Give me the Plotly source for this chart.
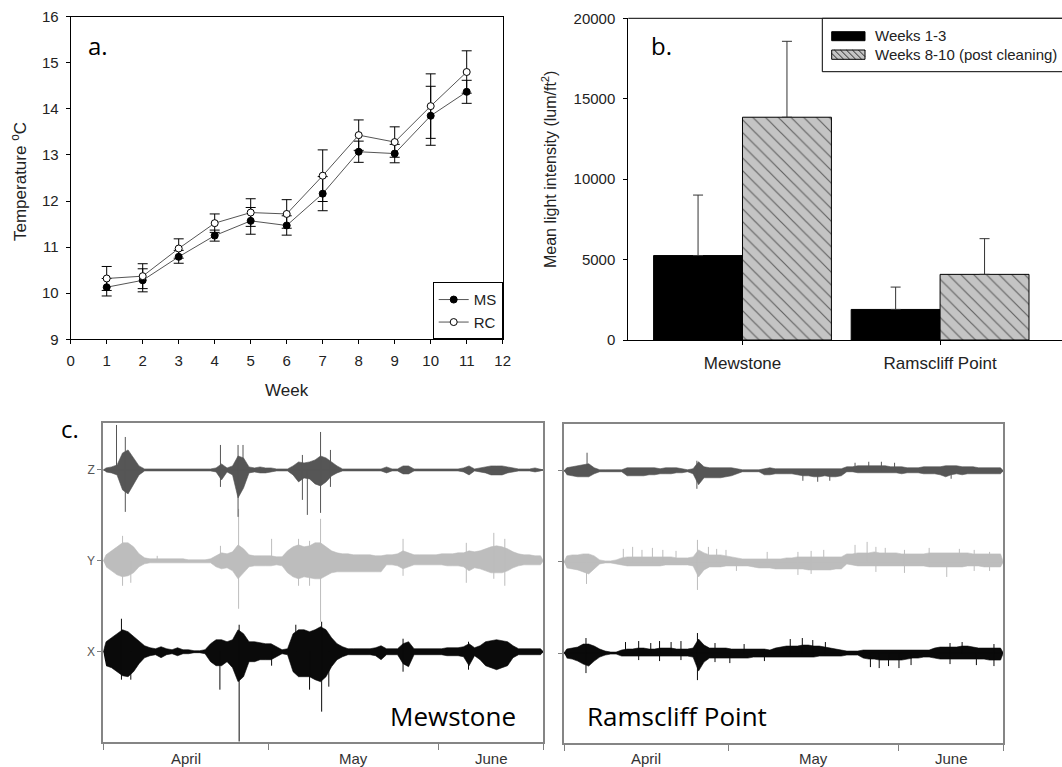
import plotly.graph_objects as go

# ---------------- data ----------------
# (a) weekly mean sea temperature, degC, with error
weeks = [1, 2, 3, 4, 5, 6, 7, 8, 9, 10, 11]
ms_temp = [10.13, 10.28, 10.79, 11.25, 11.57, 11.47, 12.16, 13.07, 13.03, 13.85, 14.37]
ms_err = [0.19, 0.25, 0.14, 0.12, 0.29, 0.21, 0.37, 0.23, 0.20, 0.64, 0.25]
rc_temp = [10.32, 10.37, 10.97, 11.52, 11.75, 11.72, 12.55, 13.43, 13.28, 14.06, 14.80]
rc_err = [0.26, 0.27, 0.21, 0.20, 0.30, 0.31, 0.56, 0.33, 0.33, 0.70, 0.46]

# (b) mean light intensity, lum/ft2
sites = ["Mewstone", "Ramscliff Point"]
light_early = [5250, 1900]
light_early_err = [3760, 1390]
light_late = [13850, 4080]
light_late_err = [4720, 2220]

# (c) accelerometer records, daily envelope amplitude (relative counts)
months = ["April", "May", "June"]
month_starts = [0, 30, 61]
record_end = 80

MS_Z_UP = [2, 3, 5, 17, 20, 12, 4, 1, 1, 1,
           1, 1, 1, 1, 1, 1, 1, 1, 1, 1,
           2, 6, 2, 4, 14, 12, 3, 2, 3, 2,
           2, 1, 1, 1, 4, 8, 7, 8, 10, 14,
           12, 8, 4, 1, 1, 1, 1, 1, 1, 1,
           1, 3, 1, 1, 4, 4, 1, 1, 1, 1,
           1, 1, 1, 1, 1, 2, 4, 1, 2, 3,
           4, 4, 4, 3, 2, 1, 1, 1, 2, 1]
MS_Z_DOWN = [2, 3, 5, 20, 24, 14, 5, 1, 1, 1,
             1, 1, 1, 1, 1, 1, 1, 1, 1, 1,
             2, 10, 2, 5, 28, 18, 3, 2, 3, 3,
             2, 1, 1, 1, 5, 12, 8, 9, 14, 16,
             12, 6, 3, 1, 1, 1, 1, 1, 1, 1,
             1, 3, 1, 1, 4, 4, 1, 1, 1, 1,
             1, 1, 1, 1, 1, 2, 5, 1, 2, 3,
             5, 5, 5, 3, 2, 1, 1, 1, 2, 1]
MS_Z_SPIKES = [(2.4, 45, 0), (4.0, 33, 42), (21.3, 25, 17), (24.5, 25, 47), (25.4, 25, 0),
               (36.2, 15, 30), (37.1, 0, 45), (39.5, 38, 43), (41.3, 20, 17)]

MS_Y_UP = [6, 10, 14, 18, 18, 14, 7, 3, 2, 2,
           2, 2, 2, 2, 2, 1, 1, 1, 1, 2,
           5, 8, 7, 9, 16, 12, 6, 5, 5, 5,
           5, 4, 4, 10, 14, 16, 14, 15, 18, 18,
           14, 10, 8, 7, 7, 6, 6, 6, 6, 5,
           5, 6, 6, 7, 10, 8, 6, 6, 6, 6,
           6, 7, 7, 7, 8, 8, 10, 9, 10, 12,
           14, 15, 14, 12, 9, 7, 6, 6, 5, 5]
MS_Y_DOWN = [6, 10, 14, 16, 15, 12, 6, 3, 2, 2,
             2, 2, 2, 2, 2, 2, 2, 2, 2, 2,
             6, 8, 7, 10, 18, 12, 6, 5, 5, 5,
             5, 4, 5, 12, 16, 18, 16, 17, 18, 18,
             15, 12, 11, 11, 11, 11, 11, 11, 11, 11,
             11, 4, 4, 5, 8, 6, 4, 4, 4, 4,
             4, 4, 5, 5, 5, 6, 10, 7, 8, 10,
             12, 12, 12, 10, 7, 5, 4, 4, 4, 4]
MS_Y_SPIKES = [(3.5, 25, 25), (5.0, 0, 22), (9.8, 5, 0), (21.3, 15, 0), (24.6, 52, 48),
               (30.6, 22, 0), (35.5, 22, 25), (37.5, 20, 25), (39.5, 42, 61), (54.5, 22, 15),
               (66.0, 18, 22), (71.0, 28, 18), (73.0, 22, 25)]

MS_X_UP = [10, 14, 18, 22, 20, 15, 10, 6, 4, 3,
           5, 3, 2, 4, 2, 2, 1, 1, 2, 8,
           12, 12, 10, 12, 22, 18, 10, 10, 9, 8,
           8, 5, 2, 3, 18, 22, 22, 20, 22, 25,
           22, 14, 8, 5, 3, 3, 3, 3, 3, 4,
           6, 3, 3, 3, 8, 10, 3, 3, 3, 3,
           3, 3, 4, 4, 4, 5, 8, 4, 6, 10,
           11, 12, 11, 10, 6, 3, 3, 3, 3, 3]
MS_X_DOWN = [14, 16, 20, 24, 25, 20, 12, 6, 4, 3,
             6, 3, 2, 4, 2, 2, 1, 1, 2, 10,
             14, 14, 10, 16, 30, 25, 10, 10, 8, 8,
             8, 5, 2, 3, 20, 25, 25, 25, 28, 30,
             25, 15, 8, 5, 3, 3, 3, 3, 3, 4,
             8, 3, 3, 3, 12, 15, 3, 3, 3, 3,
             3, 3, 4, 4, 4, 5, 14, 4, 8, 14,
             16, 18, 16, 14, 6, 3, 3, 3, 3, 3]
MS_X_SPIKES = [(3.3, 33, 28), (5.0, 0, 28), (21.2, 0, 38), (24.7, 27, 90), (30.6, 0, 14),
               (35.0, 27, 0), (37.5, 0, 38), (39.7, 30, 60), (41.0, 0, 35), (54.5, 13, 20),
               (66.4, 10, 18)]

RP_Z_UP = [3, 4, 5, 6, 7, 3, 1, 1, 1, 1,
           1, 3, 3, 3, 3, 3, 3, 2, 3, 3,
           3, 2, 1, 2, 9, 4, 3, 3, 3, 3,
           3, 2, 1, 1, 1, 1, 2, 3, 2, 2,
           2, 2, 2, 2, 2, 2, 2, 2, 2, 2,
           2, 4, 4, 5, 5, 5, 5, 5, 5, 4,
           4, 4, 3, 3, 3, 4, 4, 4, 4, 5,
           5, 5, 4, 4, 4, 3, 3, 3, 3, 3]
RP_Z_DOWN = [4, 5, 6, 6, 6, 3, 1, 1, 1, 1,
             1, 5, 5, 5, 5, 4, 4, 3, 3, 3,
             2, 2, 1, 3, 14, 7, 7, 7, 7, 6,
             5, 3, 1, 1, 1, 1, 4, 4, 3, 3,
             3, 3, 4, 5, 5, 6, 6, 5, 6, 6,
             5, 1, 1, 2, 2, 2, 2, 2, 2, 2,
             2, 3, 2, 2, 2, 3, 3, 3, 4, 6,
             4, 3, 4, 3, 3, 3, 3, 3, 3, 3]
RP_Z_SPIKES = [(4.2, 18, 0), (24.2, 10, 18), (43.5, 0, 10), (46.2, 0, 11), (48.4, 0, 10),
               (53.0, 8, 0), (55.5, 9, 0), (57.8, 9, 0), (60.2, 8, 0), (70.5, 0, 8)]

RP_Y_UP = [6, 7, 7, 8, 8, 6, 2, 1, 1, 2,
           4, 5, 5, 5, 5, 5, 5, 5, 5, 5,
           4, 4, 4, 5, 12, 9, 7, 7, 7, 6,
           5, 4, 3, 3, 3, 3, 3, 3, 3, 3,
           4, 4, 5, 5, 5, 5, 5, 5, 5, 5,
           5, 8, 8, 9, 9, 9, 10, 9, 9, 9,
           9, 8, 8, 8, 8, 8, 9, 9, 9, 9,
           9, 9, 9, 9, 8, 8, 8, 8, 8, 8]
RP_Y_DOWN = [6, 7, 8, 10, 12, 7, 2, 1, 1, 2,
             3, 4, 4, 4, 4, 4, 4, 4, 3, 3,
             3, 3, 3, 4, 15, 8, 5, 5, 5, 4,
             4, 4, 4, 4, 5, 6, 6, 6, 7, 7,
             7, 7, 7, 7, 8, 8, 8, 8, 8, 7,
             7, 2, 3, 4, 4, 4, 4, 4, 4, 4,
             4, 4, 4, 4, 4, 4, 5, 5, 5, 5,
             5, 5, 5, 4, 4, 4, 5, 5, 5, 5]
RP_Y_SPIKES = [(4.1, 0, 22), (24.3, 22, 28), (69.7, 0, 15), (10.8, 13, 0), (12.5, 15, 0),
               (14.2, 12, 0), (16.1, 14, 0), (18.0, 12, 0), (20.4, 11, 0), (26.3, 15, 0),
               (27.8, 13, 0), (29.5, 12, 0), (31.4, 0, 9), (37.0, 10, 0), (42.6, 10, 13),
               (45.0, 11, 12), (47.3, 12, 0), (53.0, 17, 0), (55.2, 20, 0), (56.8, 15, 10),
               (58.5, 14, 0), (62.0, 12, 11), (66.5, 14, 0), (72.0, 13, 0), (74.7, 12, 9),
               (77.5, 10, 9)]

RP_X_UP = [4, 5, 6, 9, 9, 7, 4, 2, 1, 1,
           3, 4, 4, 5, 5, 4, 4, 5, 5, 5,
           4, 4, 4, 5, 14, 8, 5, 5, 5, 5,
           4, 4, 4, 4, 4, 4, 4, 3, 5, 6,
           7, 7, 7, 8, 8, 7, 7, 6, 5, 4,
           3, 2, 2, 2, 3, 3, 3, 3, 3, 3,
           3, 3, 3, 3, 3, 3, 3, 5, 6, 6,
           6, 6, 7, 7, 6, 5, 5, 5, 5, 5]
RP_X_DOWN = [5, 6, 8, 11, 13, 8, 4, 2, 1, 1,
             3, 3, 3, 3, 3, 3, 3, 3, 3, 3,
             3, 3, 3, 4, 18, 9, 5, 5, 5, 5,
             5, 5, 5, 5, 4, 4, 4, 4, 4, 4,
             4, 4, 4, 4, 4, 4, 3, 3, 3, 3,
             3, 2, 2, 2, 5, 6, 6, 7, 7, 7,
             7, 7, 6, 5, 5, 4, 4, 5, 6, 6,
             6, 6, 6, 6, 6, 6, 6, 7, 7, 7]
RP_X_SPIKES = [(4.0, 15, 20), (24.3, 20, 27), (11.2, 11, 0), (13.6, 12, 7), (15.8, 10, 0),
               (17.4, 12, 8), (19.5, 11, 0), (21.3, 12, 7), (27.5, 10, 9), (30.2, 0, 10),
               (32.8, 9, 0), (36.5, 0, 8), (41.2, 14, 0), (43.4, 15, 0), (45.3, 13, 0),
               (47.6, 11, 0), (55.8, 0, 14), (57.4, 0, 15), (59.1, 0, 13), (61.0, 0, 15),
               (63.2, 0, 12), (70.3, 10, 11), (72.5, 11, 0), (75.1, 0, 12), (78.3, 9, 13)]

# ---------------- layout helpers ----------------
W, H = 1062, 767
SANS = "Liberation Sans, Arial, sans-serif"
CAL = "Open Sans, sans-serif"


def px(x):
    return x / W


def py(y):
    return 1 - y / H


fig = go.Figure()

# ---------------- panel a ----------------
fig.add_trace(go.Scatter(
    x=weeks, y=ms_temp, name="MS", mode="lines+markers",
    line=dict(color="#555555", width=1),
    marker=dict(symbol="circle", size=7, color="black", line=dict(color="black", width=1)),
    error_y=dict(type="data", array=ms_err, color="black", thickness=1, width=5),
    xaxis="x", yaxis="y"))
fig.add_trace(go.Scatter(
    x=weeks, y=rc_temp, name="RC", mode="lines+markers",
    line=dict(color="#555555", width=1),
    marker=dict(symbol="circle", size=7, color="white", line=dict(color="black", width=1)),
    error_y=dict(type="data", array=rc_err, color="black", thickness=1, width=5),
    xaxis="x", yaxis="y"))

# ---------------- panel b ----------------
fig.add_trace(go.Bar(
    x=sites, y=light_early, name="Weeks 1-3", showlegend=False,
    marker=dict(color="black", line=dict(color="black", width=1)),
    error_y=dict(type="data", array=light_early_err, arrayminus=[0] * len(sites),
                 symmetric=False, color="#333333", thickness=1, width=5),
    xaxis="x2", yaxis="y2"))
fig.add_trace(go.Bar(
    x=sites, y=light_late, name="Weeks 8-10 (post cleaning)", showlegend=False,
    marker=dict(color="#c4c4c4", line=dict(color="black", width=1),
                pattern=dict(shape="\\", fgcolor="black", bgcolor="#c4c4c4",
                             size=9, solidity=0.13)),
    error_y=dict(type="data", array=light_late_err, arrayminus=[0] * len(sites),
                 symmetric=False, color="#333333", thickness=1, width=5),
    xaxis="x2", yaxis="y2"))

# ---------------- panel c ----------------
AMP_SCALE = 91.0
OFFSETS = {"X": 1, "Y": 2, "Z": 3}
COLORS = {"Z": "#565656", "Y": "#bdbdbd", "X": "#0a0a0a"}


def add_wave(xa, ya, channel, up, down, spikes):
    base = OFFSETS[channel]
    color = COLORS[channel]
    days = [i + 0.5 for i in range(len(up))]
    upper = [base + u / AMP_SCALE for u in up]
    lower = [base - d / AMP_SCALE for d in down]
    fig.add_trace(go.Scatter(
        x=[0] + days + [record_end] + days[::-1], y=[base] + upper + [base] + lower[::-1],
        mode="lines", fill="toself", fillcolor=color,
        line=dict(color=color, width=0.6), showlegend=False, hoverinfo="skip",
        xaxis=xa, yaxis=ya))
    fig.add_trace(go.Scatter(
        x=[0, record_end], y=[base, base], mode="lines",
        line=dict(color=color, width=1.6), showlegend=False, hoverinfo="skip",
        xaxis=xa, yaxis=ya))
    sx, sy = [], []
    for d, u, dn in spikes:
        sx += [d, d, None]
        sy += [base + u / AMP_SCALE, base - dn / AMP_SCALE, None]
    fig.add_trace(go.Scatter(
        x=sx, y=sy, mode="lines", line=dict(color=color, width=1),
        showlegend=False, hoverinfo="skip", xaxis=xa, yaxis=ya))


add_wave("x3", "y3", "Y", MS_Y_UP, MS_Y_DOWN, MS_Y_SPIKES)
add_wave("x3", "y3", "Z", MS_Z_UP, MS_Z_DOWN, MS_Z_SPIKES)
add_wave("x3", "y3", "X", MS_X_UP, MS_X_DOWN, MS_X_SPIKES)
add_wave("x4", "y4", "Y", RP_Y_UP, RP_Y_DOWN, RP_Y_SPIKES)
add_wave("x4", "y4", "Z", RP_Z_UP, RP_Z_DOWN, RP_Z_SPIKES)
add_wave("x4", "y4", "X", RP_X_UP, RP_X_DOWN, RP_X_SPIKES)

# ---------------- axes ----------------
tick_font = dict(family=SANS, size=15, color="#222222")
ax_common = dict(showgrid=False, zeroline=False, ticks="outside", ticklen=4,
                 tickcolor="black", showline=True, linecolor="black", linewidth=1,
                 automargin=False)

month_bounds = month_starts + [record_end]
wave_x = dict(range=[0, record_end], tickvals=month_bounds, showticklabels=False,
              ticks="outside", ticklen=6, tickcolor="#808080", showgrid=False,
              zeroline=False, showline=True, mirror=True, linecolor="#858585", linewidth=2,
              automargin=False)
wave_y = dict(range=[0.01, 3.513], tickvals=[OFFSETS["X"], OFFSETS["Y"], OFFSETS["Z"]],
              ticktext=["X", "Y", "Z"], ticks="outside", ticklen=4, tickcolor="#808080",
              showgrid=False, zeroline=False, showline=True, mirror=True,
              linecolor="#858585", linewidth=2, automargin=False,
              tickfont=dict(family=SANS, size=12, color="#555555"))

fig.update_layout(
    width=W, height=H, margin=dict(l=0, r=0, t=0, b=0, pad=0, autoexpand=False),
    paper_bgcolor="white", plot_bgcolor="white",
    barmode="group", bargap=0.1, bargroupgap=0,
    showlegend=True,
    legend=dict(x=px(502.7), xanchor="right", y=py(339.3), yanchor="bottom",
                bordercolor="black", borderwidth=1, bgcolor="white",
                font=dict(family=SANS, size=15, color="#222222"),
                itemwidth=30, tracegroupgap=0),
    xaxis=dict(domain=[px(70.7), px(502.7)], range=[0, 12], dtick=1, mirror=True,
               tickfont=tick_font, ticklabelstandoff=4, anchor="y", **ax_common),
    yaxis=dict(domain=[py(339.3), py(16.7)], range=[9, 16], dtick=1, mirror=True,
               tickfont=tick_font, ticklabelstandoff=4, anchor="x", **ax_common),
    xaxis2=dict(domain=[px(628.3), 1.0], range=[-0.578, 1.617], type="category",
                tickfont=dict(family=SANS, size=17, color="#222222"), ticklabelstandoff=4,
                anchor="y2", **ax_common),
    yaxis2=dict(domain=[py(340), py(18.3)], range=[0, 20000], dtick=5000, tickformat="d",
                tickfont=tick_font, ticklabelstandoff=5, anchor="x2", **ax_common),
    xaxis3=dict(domain=[px(103.3), px(543.3)], anchor="y3", **wave_x),
    yaxis3=dict(domain=[py(741.7), py(423.3)], anchor="x3", showticklabels=True, **wave_y),
    xaxis4=dict(domain=[px(564), px(1003.3)], anchor="y4", **wave_x),
    yaxis4=dict(domain=[py(743.3), py(424)], anchor="x4", showticklabels=False, **wave_y),
)

# ---------------- text ----------------
ann = []


def note(x, y, text, size, family=SANS, color="#222222", xanchor="center", angle=0):
    ann.append(dict(x=px(x), y=py(y), xref="paper", yref="paper", text=text,
                    showarrow=False, xanchor=xanchor, yanchor="middle", textangle=angle,
                    font=dict(family=family, size=size, color=color)))


note(286.7, 391, "Week", 17)
note(19, 182, "Temperature <sup>o</sup>C", 17, angle=-90)
note(549, 170, "Mean light intensity (lum/ft<sup>2</sup>)", 16, angle=-90)
note(86, 45, "a.", 24, family=CAL, color="black", xanchor="left")
note(649, 45, "b.", 24, family=CAL, color="black", xanchor="left")
note(59, 428, "c.", 24, family=CAL, color="black", xanchor="left")
note(873.3, 36, "Weeks 1-3", 15, xanchor="left")
note(873.3, 54.5, "Weeks 8-10 (post cleaning)", 15, xanchor="left")
note(453, 716, "Mewstone", 26, family=CAL, color="black")
note(676.5, 716, "Ramscliff Point", 26, family=CAL, color="black")

for xa in ("x3", "x4"):
    for i, m in enumerate(months):
        mid = (month_bounds[i] + month_bounds[i + 1]) / 2
        ann.append(dict(x=mid, y=py(758), xref=xa, yref="paper", text=m, showarrow=False,
                        xanchor="center", yanchor="middle",
                        font=dict(family=SANS, size=15, color="#333333")))

fig.update_layout(annotations=ann)

# ---------------- legend box and frame for panel b ----------------


def hatch_path(x0, y0, x1, y1, step=6.0):
    h = y1 - y0
    segs = []
    s = -h
    while s < (x1 - x0):
        ax, ay = x0 + s, y0
        bx, by = x0 + s + h, y1
        if ax < x0:
            ay = y0 + (x0 - ax)
            ax = x0
        if bx > x1:
            by = y1 - (bx - x1)
            bx = x1
        if bx > ax:
            segs.append(f"M{px(ax):.5f},{py(ay):.5f} L{px(bx):.5f},{py(by):.5f}")
        s += step
    return " ".join(segs)


shapes = [
    dict(type="line", xref="paper", yref="paper", x0=px(628.3), x1=1.0,
         y0=py(18.3), y1=py(18.3), line=dict(color="black", width=1)),
    dict(type="rect", xref="paper", yref="paper", x0=px(822.3), x1=px(1075),
         y0=py(71.7), y1=py(18.3), line=dict(color="black", width=1), fillcolor="white"),
    dict(type="rect", xref="paper", yref="paper", x0=px(831.7), x1=px(865),
         y0=py(40.7), y1=py(31.7), line=dict(color="black", width=1), fillcolor="black"),
    dict(type="rect", xref="paper", yref="paper", x0=px(831.7), x1=px(865),
         y0=py(59.3), y1=py(50), line=dict(color="black", width=1), fillcolor="#c4c4c4"),
    dict(type="path", xref="paper", yref="paper", path=hatch_path(831.7, 50, 865, 59.3),
         line=dict(color="black", width=0.8)),
]
fig.update_layout(shapes=shapes)

fig.write_html("out.html")
